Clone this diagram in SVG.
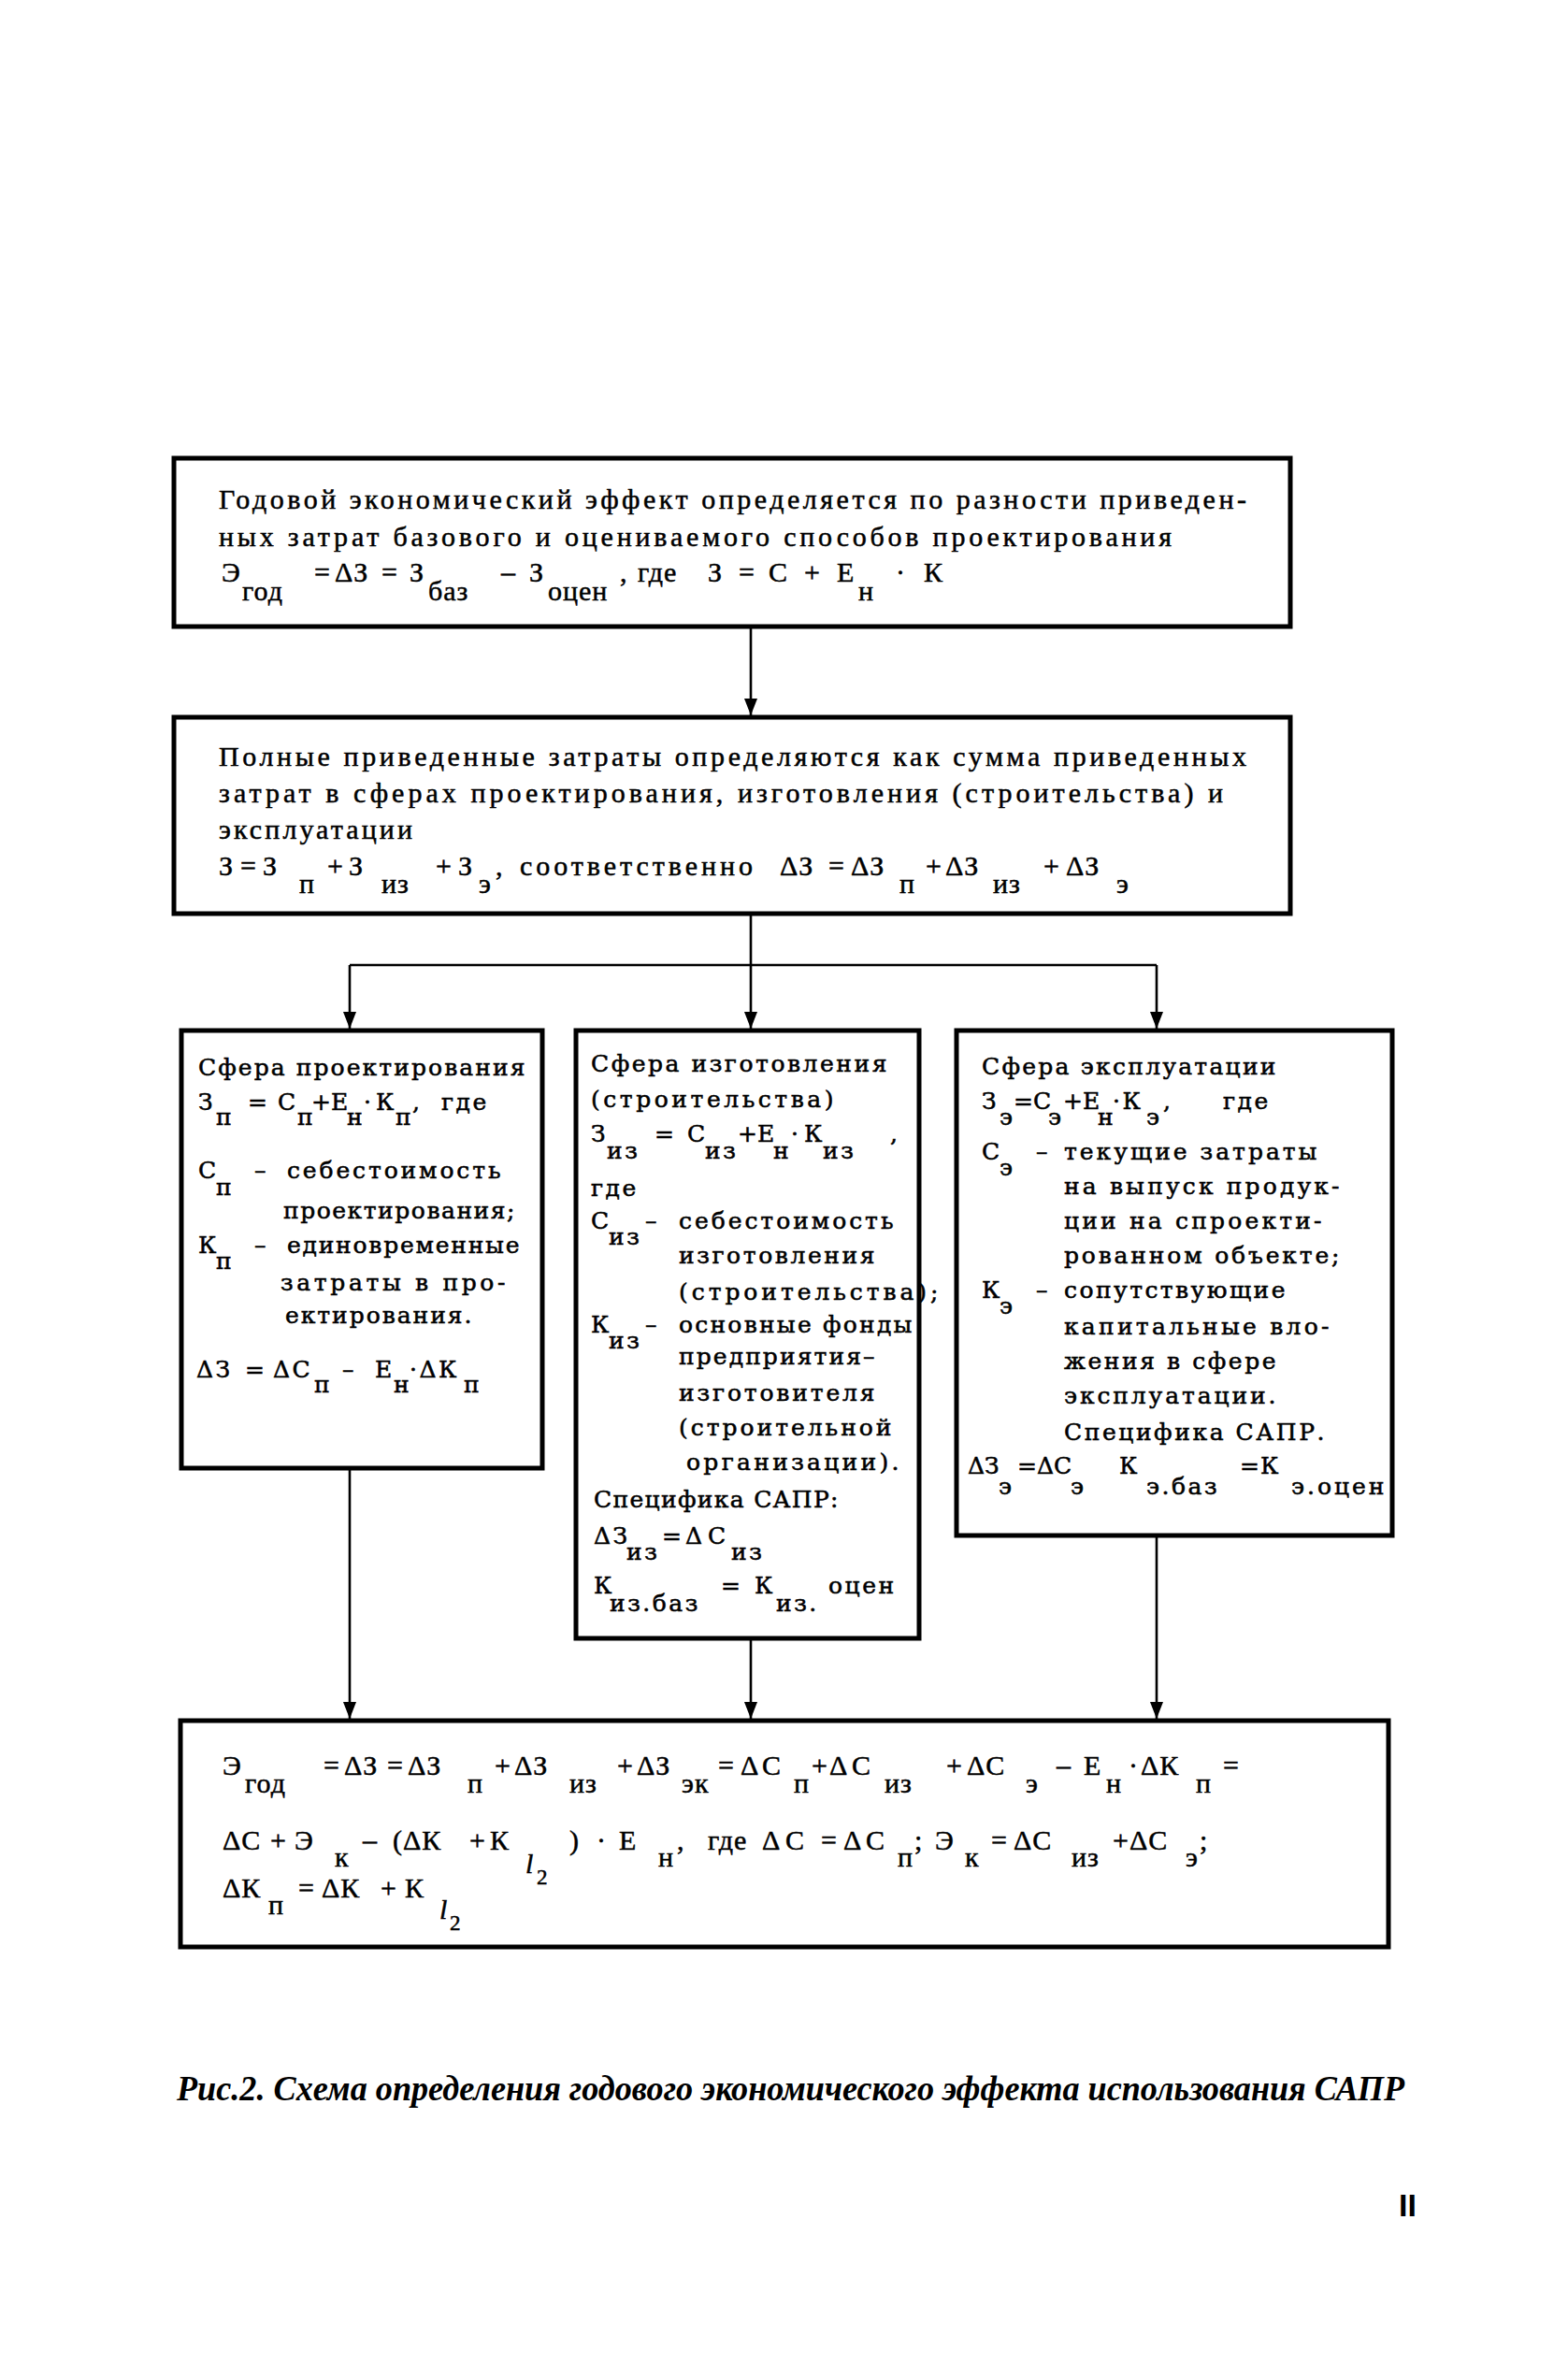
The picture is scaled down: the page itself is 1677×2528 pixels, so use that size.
<svg xmlns="http://www.w3.org/2000/svg" width="1677" height="2528" viewBox="0 0 1677 2528" xml:space="preserve">
<style>
.box{fill:none;stroke:#000;stroke-width:5}
.conn{fill:none;stroke:#000;stroke-width:2.6}
.s{font-family:"Liberation Serif",serif;font-size:30px;fill:#000;letter-spacing:1px;stroke:#000;stroke-width:0.5}
.m{font-family:"DejaVu Serif",serif;font-size:25px;fill:#000;letter-spacing:2.5px;stroke:#000;stroke-width:0.55}
.t{letter-spacing:0}
.il{font-style:italic}
.sm{font-size:23px}
.cap{font-family:"Liberation Serif",serif;font-size:38px;font-weight:bold;font-style:italic;fill:#000}
.pg{font-family:"Liberation Sans",sans-serif;font-size:34px;font-weight:bold;fill:#000}
</style>
<defs>
<marker id="arr" markerUnits="userSpaceOnUse" markerWidth="18" markerHeight="14" viewBox="0 0 18 14" refX="18" refY="7" orient="auto"><path d="M0,0 L18,7 L0,14 z" fill="#000"/></marker>
</defs>
<rect width="1677" height="2528" fill="#fff"/>

<g id="connectors">
<path class="conn" d="M803,670 V765" marker-end="url(#arr)"/>
<path class="conn" d="M803,977 V1032 M374,1032 H1237"/>
<path class="conn" d="M374,1032 V1100" marker-end="url(#arr)"/>
<path class="conn" d="M803,1032 V1100" marker-end="url(#arr)"/>
<path class="conn" d="M1237,1032 V1100" marker-end="url(#arr)"/>
<path class="conn" d="M374,1570 V1838" marker-end="url(#arr)"/>
<path class="conn" d="M803,1752 V1838" marker-end="url(#arr)"/>
<path class="conn" d="M1237,1642 V1838" marker-end="url(#arr)"/>
</g>

<g id="n1">
<rect class="box" x="186" y="490" width="1194" height="180"/>
<text class="s" x="234" y="544" textLength="1100" lengthAdjust="spacing">Годовой экономический эффект определяется по разности приведен-</text>
<text class="s" x="234" y="584" textLength="1020" lengthAdjust="spacing">ных затрат базового и оцениваемого способов проектирования</text>
<text class="s" y="622"><tspan x="237">Э</tspan><tspan x="336">=</tspan><tspan x="358">ΔЗ</tspan><tspan x="408">=</tspan><tspan x="438">З</tspan><tspan x="536">–</tspan><tspan x="566">З</tspan><tspan x="663">,</tspan><tspan x="682">где</tspan><tspan x="757">З</tspan><tspan x="790">=</tspan><tspan x="822">С</tspan><tspan x="860">+</tspan><tspan x="895">Е</tspan><tspan x="958">·</tspan><tspan x="988">К</tspan></text>
<text class="s" y="642"><tspan x="259">год</tspan><tspan x="458">баз</tspan><tspan x="586">оцен</tspan><tspan x="918">н</tspan></text>
</g>

<g id="n2">
<rect class="box" x="186" y="767" width="1194" height="210"/>
<text class="s" x="234" y="819" textLength="1100" lengthAdjust="spacing">Полные приведенные затраты определяются как сумма приведенных</text>
<text class="s" x="234" y="858" textLength="1075" lengthAdjust="spacing">затрат в сферах проектирования, изготовления (строительства) и</text>
<text class="s" x="234" y="897" textLength="208" lengthAdjust="spacing">эксплуатации</text>
<text class="s" y="936"><tspan x="234">З</tspan><tspan x="257">=</tspan><tspan x="281">З</tspan><tspan x="350">+</tspan><tspan x="373">З</tspan><tspan x="466">+</tspan><tspan x="490">З</tspan><tspan x="530">,</tspan><tspan x="556" textLength="250" lengthAdjust="spacing">соответственно</tspan><tspan x="834">ΔЗ</tspan><tspan x="886">=</tspan><tspan x="910">ΔЗ</tspan><tspan x="990">+</tspan><tspan x="1011">ΔЗ</tspan><tspan x="1116">+</tspan><tspan x="1140">ΔЗ</tspan></text>
<text class="s" y="955"><tspan x="320">п</tspan><tspan x="408">из</tspan><tspan x="512">э</tspan><tspan x="962">п</tspan><tspan x="1062">из</tspan><tspan x="1194">э</tspan></text>
</g>

<g id="n3">
<rect class="box" x="194" y="1102" width="386" height="468"/>
<text class="m" x="212" y="1150" textLength="352" lengthAdjust="spacing">Сфера проектирования</text>
<text class="m" y="1187"><tspan x="212">З</tspan><tspan x="265">=</tspan><tspan x="297">С</tspan><tspan class="t" x="333">+Е</tspan><tspan x="389">·</tspan><tspan x="402">К</tspan><tspan x="441">,</tspan><tspan x="472">где</tspan></text>
<text class="m" y="1203"><tspan x="231">п</tspan><tspan x="318">п</tspan><tspan x="371">н</tspan><tspan x="423">п</tspan></text>
<text class="m" y="1260"><tspan x="212">С</tspan><tspan x="272">–</tspan><tspan x="307" textLength="231" lengthAdjust="spacing">себестоимость</tspan></text>
<text class="m" x="231" y="1278">п</text>
<text class="m" x="303" y="1303" textLength="250" lengthAdjust="spacing">проектирования;</text>
<text class="m" y="1340"><tspan x="212">К</tspan><tspan x="272">–</tspan><tspan x="307" textLength="251" lengthAdjust="spacing">единовременные</tspan></text>
<text class="m" x="231" y="1357">п</text>
<text class="m" x="300" y="1380" textLength="243" lengthAdjust="spacing">затраты в про-</text>
<text class="m" x="305" y="1415" textLength="202" lengthAdjust="spacing">ектирования.</text>
<text class="m" y="1473"><tspan x="210">ΔЗ</tspan><tspan x="262">=</tspan><tspan x="292">ΔС</tspan><tspan x="366">–</tspan><tspan x="401">Е</tspan><tspan x="438">·ΔК</tspan></text>
<text class="m" y="1489"><tspan x="336">п</tspan><tspan x="421">н</tspan><tspan x="496">п</tspan></text>
</g>

<g id="n4">
<rect class="box" x="616" y="1102" width="367" height="650"/>
<text class="m" x="632" y="1146" textLength="319" lengthAdjust="spacing">Сфера изготовления</text>
<text class="m" x="632" y="1184" textLength="262" lengthAdjust="spacing">(строительства)</text>
<text class="m" y="1221"><tspan x="632">З</tspan><tspan x="700">=</tspan><tspan x="735">С</tspan><tspan class="t" x="789">+Е</tspan><tspan x="846">·</tspan><tspan x="860">К</tspan><tspan x="952">,</tspan></text>
<text class="m" y="1239"><tspan x="649">из</tspan><tspan x="754">из</tspan><tspan x="827">н</tspan><tspan x="880">из</tspan></text>
<text class="m" x="632" y="1279">где</text>
<text class="m" y="1314"><tspan x="632">С</tspan><tspan x="690">–</tspan><tspan x="726" textLength="232" lengthAdjust="spacing">себестоимость</tspan></text>
<text class="m" x="651" y="1331">из</text>
<text class="m" x="726" y="1351" textLength="212" lengthAdjust="spacing">изготовления</text>
<text class="m" x="726" y="1390" textLength="280" lengthAdjust="spacing">(строительства);</text>
<text class="m" y="1425"><tspan x="632">К</tspan><tspan x="690">–</tspan><tspan x="726" textLength="252" lengthAdjust="spacing">основные фонды</tspan></text>
<text class="m" x="651" y="1442">из</text>
<text class="m" x="726" y="1459" textLength="212" lengthAdjust="spacing">предприятия–</text>
<text class="m" x="726" y="1498" textLength="212" lengthAdjust="spacing">изготовителя</text>
<text class="m" x="726" y="1535" textLength="230" lengthAdjust="spacing">(строительной</text>
<text class="m" x="734" y="1572" textLength="230" lengthAdjust="spacing">организации).</text>
<text class="m" x="635" y="1612" textLength="264" lengthAdjust="spacing">Специфика САПР:</text>
<text class="m" y="1651"><tspan x="635">ΔЗ</tspan><tspan x="708">=</tspan><tspan x="733">Δ</tspan><tspan x="757">С</tspan></text>
<text class="m" y="1668"><tspan x="670">из</tspan><tspan x="782">из</tspan></text>
<text class="m" y="1704"><tspan x="635">К</tspan><tspan x="771">=</tspan><tspan x="807">К</tspan><tspan x="886">оцен</tspan></text>
<text class="m" y="1723"><tspan x="652">из.баз</tspan><tspan x="830">из.</tspan></text>
</g>

<g id="n5">
<rect class="box" x="1023" y="1102" width="466" height="540"/>
<text class="m" x="1050" y="1149" textLength="317" lengthAdjust="spacing">Сфера эксплуатации</text>
<text class="m" y="1186"><tspan x="1050">З</tspan><tspan class="t" x="1084">=С</tspan><tspan class="t" x="1137">+Е</tspan><tspan x="1190">·К</tspan><tspan x="1244">,</tspan><tspan x="1308">где</tspan></text>
<text class="m" y="1203"><tspan x="1069">э</tspan><tspan x="1121">э</tspan><tspan x="1174">н</tspan><tspan x="1226">э</tspan></text>
<text class="m" y="1240"><tspan x="1050">С</tspan><tspan x="1108">–</tspan><tspan x="1138" textLength="273" lengthAdjust="spacing">текущие затраты</tspan></text>
<text class="m" x="1069" y="1257">э</text>
<text class="m" x="1138" y="1277" textLength="297" lengthAdjust="spacing">на выпуск продук-</text>
<text class="m" x="1138" y="1314" textLength="278" lengthAdjust="spacing">ции на спроекти-</text>
<text class="m" x="1138" y="1351" textLength="297" lengthAdjust="spacing">рованном объекте;</text>
<text class="m" y="1388"><tspan x="1050">К</tspan><tspan x="1108">–</tspan><tspan x="1138" textLength="239" lengthAdjust="spacing">сопутствующие</tspan></text>
<text class="m" x="1069" y="1405">э</text>
<text class="m" x="1138" y="1427" textLength="286" lengthAdjust="spacing">капитальные вло-</text>
<text class="m" x="1138" y="1464" textLength="229" lengthAdjust="spacing">жения в сфере</text>
<text class="m" x="1138" y="1501" textLength="229" lengthAdjust="spacing">эксплуатации.</text>
<text class="m" x="1138" y="1540" textLength="281" lengthAdjust="spacing">Специфика САПР.</text>
<text class="m" y="1576"><tspan x="1035">Δ</tspan><tspan x="1053">З</tspan><tspan class="t" x="1088">=ΔС</tspan><tspan x="1197">К</tspan><tspan x="1326">=</tspan><tspan x="1348">К</tspan></text>
<text class="m" y="1598"><tspan x="1068">э</tspan><tspan x="1145">э</tspan><tspan x="1226">э.баз</tspan><tspan x="1381" textLength="102" lengthAdjust="spacing">э.оцен</tspan></text>
</g>

<g id="n6">
<rect class="box" x="193" y="1840" width="1292" height="242"/>
<text class="s" y="1898"><tspan x="238">Э</tspan><tspan x="346">=</tspan><tspan x="368">ΔЗ</tspan><tspan x="414">=</tspan><tspan x="436">ΔЗ</tspan><tspan x="529">+</tspan><tspan x="550">ΔЗ</tspan><tspan x="660">+</tspan><tspan x="681">ΔЗ</tspan><tspan x="768">=</tspan><tspan x="792">Δ</tspan><tspan x="815">С</tspan><tspan x="868">+</tspan><tspan x="887">Δ</tspan><tspan x="911">С</tspan><tspan x="1012">+</tspan><tspan x="1034">ΔС</tspan><tspan x="1130">–</tspan><tspan x="1159">Е</tspan><tspan x="1207">·</tspan><tspan x="1220">ΔК</tspan><tspan x="1308">=</tspan></text>
<text class="s" y="1917"><tspan x="262">год</tspan><tspan x="500">п</tspan><tspan x="609">из</tspan><tspan x="729">эк</tspan><tspan x="849">п</tspan><tspan x="946">из</tspan><tspan x="1097">э</tspan><tspan x="1183">н</tspan><tspan x="1279">п</tspan></text>
<text class="s" y="1978"><tspan x="238">ΔС</tspan><tspan x="289">+</tspan><tspan x="315">Э</tspan><tspan x="388">–</tspan><tspan x="420">(ΔК</tspan><tspan x="502">+</tspan><tspan x="524">К</tspan><tspan x="609">)</tspan><tspan x="638">·</tspan><tspan x="662">Е</tspan><tspan x="724">,</tspan><tspan x="757">где</tspan><tspan x="815">Δ</tspan><tspan x="840">С</tspan><tspan x="878">=</tspan><tspan x="902">Δ</tspan><tspan x="926">С</tspan><tspan x="978">;</tspan><tspan x="1000">Э</tspan><tspan x="1060">=</tspan><tspan x="1084">ΔС</tspan><tspan x="1190">+</tspan><tspan x="1208">ΔС</tspan><tspan x="1283">;</tspan></text>
<text class="s" y="1996"><tspan x="358">к</tspan><tspan x="704">н</tspan><tspan x="960">п</tspan><tspan x="1032">к</tspan><tspan x="1146">из</tspan><tspan x="1268">э</tspan></text>
<text class="s il" x="562" y="2003">l</text>
<text class="s sm" x="574" y="2015">2</text>
<text class="s" y="2029"><tspan x="238">ΔК</tspan><tspan x="319">=</tspan><tspan x="344">ΔК</tspan><tspan x="407">+</tspan><tspan x="433">К</tspan></text>
<text class="s" x="287" y="2047">п</text>
<text class="s il" x="470" y="2052">l</text>
<text class="s sm" x="481" y="2064">2</text>
</g>

<g id="caption">
<text class="cap" x="189" y="2246" textLength="1313" lengthAdjust="spacingAndGlyphs">Рис.2. Схема определения годового экономического эффекта использования САПР</text>
<text class="pg" x="1496" y="2370">II</text>
</g>
</svg>
